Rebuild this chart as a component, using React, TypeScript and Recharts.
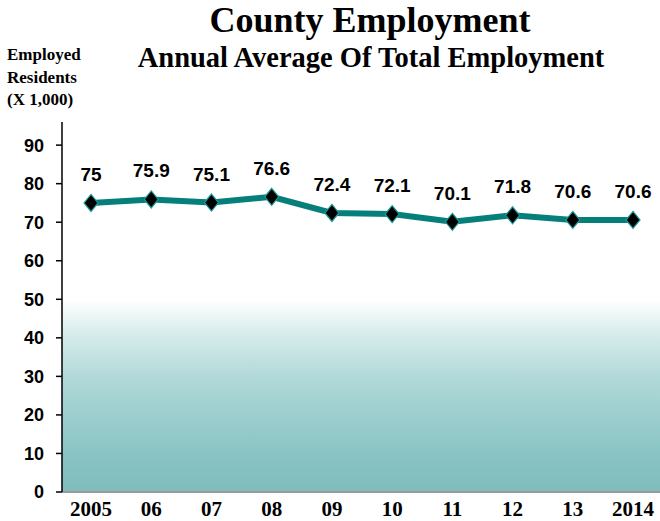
import React from "react";
import { LineChart, Line, XAxis, YAxis, ReferenceArea, LabelList } from "recharts";

const years = ["2005", "06", "07", "08", "09", "10", "11", "12", "13", "2014"];
const employment = [75, 75.9, 75.1, 76.6, 72.4, 72.1, 70.1, 71.8, 70.6, 70.6];
const yTicks = [0, 10, 20, 30, 40, 50, 60, 70, 80, 90];

const data = years.map((y, i) => ({ idx: i, year: y, value: employment[i] }));
const xTicks = years.map((_, i) => i);
const X_MIN = -0.482;
const X_MAX = 9.448;

const TEAL = "#067f7b";
const SERIF = "'Liberation Serif', 'DejaVu Serif', serif";
const SANS = "'Liberation Sans', Arial, sans-serif";

const Diamond = (props: any) => {
  const { cx, cy, index } = props;
  if (cx == null || cy == null) return null;
  const w = 7, h = 8.5;
  return (
    <polygon
      key={`d-${index}`}
      points={`${cx},${cy - h} ${cx + w},${cy} ${cx},${cy + h} ${cx - w},${cy}`}
      fill="#000"
      stroke="#1a9a98"
      strokeWidth={1.2}
    />
  );
};

export default function App() {
  return (
    <div style={{ position: "absolute", left: 0, top: 0, width: 660, height: 521, background: "#fff" }}>
      <div style={{ position: "absolute", left: 0, width: 740, top: -1, textAlign: "center", fontFamily: SERIF, fontWeight: 700, fontSize: 36, lineHeight: "42px", color: "#000" }}>
        County Employment
      </div>
      <div style={{ position: "absolute", left: 0, width: 742, top: 42, textAlign: "center", fontFamily: SERIF, fontWeight: 700, fontSize: 28.5, lineHeight: "32px", color: "#000" }}>
        Annual Average Of Total Employment
      </div>
      <div style={{ position: "absolute", left: 7, top: 44, fontFamily: SERIF, fontWeight: 700, fontSize: 17, lineHeight: "22.5px", color: "#000" }}>
        Employed<br />Residents<br />(X 1,000)
      </div>
      <LineChart width={660} height={521} data={data} margin={{ top: 122, right: 0, bottom: 0, left: 0 }}>
        <defs>
          <linearGradient id="bgGrad" x1="0" y1="0" x2="0" y2="1">
            <stop offset="0" stopColor="#ffffff" />
            <stop offset="0.2" stopColor="#d3eaea" />
            <stop offset="0.4" stopColor="#b2d9d9" />
            <stop offset="0.6" stopColor="#9dcece" />
            <stop offset="0.8" stopColor="#8ac4c4" />
            <stop offset="1" stopColor="#7fbdbd" />
          </linearGradient>
        </defs>
        <ReferenceArea x1={X_MIN} x2={X_MAX} y1={0} y2={50} fill="url(#bgGrad)" fillOpacity={1} stroke="none" ifOverflow="visible" />
        <XAxis
          dataKey="idx"
          type="number"
          domain={[X_MIN, X_MAX]}
          allowDataOverflow
          ticks={xTicks}
          tickFormatter={(v: number) => years[v]}
          height={29}
          axisLine={{ stroke: "#9a9a9a", strokeWidth: 2 }}
          tickLine={false}
          tickMargin={3}
          interval={0}
          tick={{ fontFamily: SERIF, fontWeight: 700, fontSize: 21, fill: "#000" }}
        />
        <YAxis
          width={62}
          domain={[0, 96]}
          ticks={yTicks}
          interval={0}
          axisLine={{ stroke: "#000", strokeWidth: 1.5 }}
          tickLine={{ stroke: "#000", strokeWidth: 1.5 }}
          tickSize={6}
          tickMargin={12}
          tick={{ fontFamily: SANS, fontWeight: 700, fontSize: 18, fill: "#000" }}
        />
        <Line
          type="linear"
          dataKey="value"
          stroke={TEAL}
          strokeWidth={6}
          dot={<Diamond />}
          activeDot={false}
          isAnimationActive={false}
        >
          <LabelList
            dataKey="value"
            position="top"
            offset={22}
            style={{ fontFamily: SANS, fontWeight: 700, fontSize: 19, fill: "#000" }}
          />
        </Line>
      </LineChart>
    </div>
  );
}
